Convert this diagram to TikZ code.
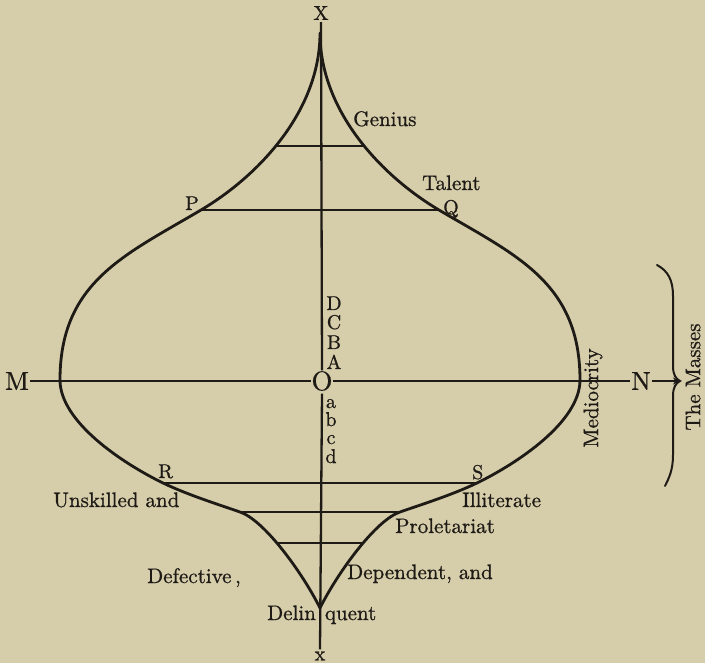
\documentclass[tikz,border=0pt]{standalone}
\usepackage{fontspec}
\setmainfont{lmroman10-regular.otf}[FakeBold=0.8]
\usetikzlibrary{arrows.meta}
\definecolor{paper}{RGB}{214,205,170}
\definecolor{ink}{RGB}{30,26,22}
\tikzset{
  lbl/.style={inner sep=0pt, text=ink, font=\fontsize{21}{25}\selectfont},
  let/.style={inner sep=0pt, text=ink, font=\fontsize{20}{23}\selectfont},
  big/.style={inner sep=1pt, text=ink, font=\fontsize{26}{29}\selectfont},
  outline/.style={draw=ink, line width=2.8pt, line cap=round, line join=round},
  bar/.style={draw=ink, line width=2.1pt},
  axis/.style={draw=ink, line width=2.3pt},
}
\begin{document}
\begin{tikzpicture}[x=1pt,y=-1pt]
\useasboundingbox (0,0) rectangle (705,663);
\fill[paper] (0,0) rectangle (705,663);

% outline of the figure
\draw[outline] (320,33)
  .. controls (320,110) and (380,175) .. (439,210)
  .. controls (515,255) and (580,282) .. (580,380)
  .. controls (580,422) and (517,463.5) .. (477,483)
  .. controls (452,495) and (420,505) .. (400,512)
  .. controls (376,520) and (338,572) .. (320,608)
  .. controls (302,572) and (264,520) .. (240,512)
  .. controls (220,505) and (188,495) .. (163,483)
  .. controls (123,463.5) and (60,422) .. (60,380)
  .. controls (60,282) and (125,255) .. (201,210)
  .. controls (260,175) and (320,110) .. (320,33);

% cross bars
\draw[bar] (276,146) -- (364,146);
\draw[bar] (201,210) -- (439,210);
\draw[bar] (163,483) -- (477,483);
\draw[bar] (240,512) -- (400,512);
\draw[bar] (276.5,543) -- (363.5,543);

% axes
\node[let, inner sep=2pt] (X) at (321,13) {X};
\node[let, inner sep=2pt] (xb) at (320,656) {x};
\node[big] (M) at (17,381) {M};
\node[big] (N) at (641,381) {N};
\node[inner sep=0.5pt, text=ink, font=\fontsize{27}{30}\selectfont] (O) at (322,381) {O};
\draw[axis] (X.south) -- (O.north);
\draw[axis] (O.south) ++(0,2) -- (xb.north);
\draw[axis] (M.east) -- (O.west);
\draw[axis] (O.east) -- (N.west);

% brace
\coordinate (tip) at (680,381);
\draw[draw=ink, line width=2pt, line cap=round]
  (657,265) .. controls (668,271) and (673,280) .. (673,296) -- (673,366)
  .. controls (673,375) and (676,379) .. (tip)
  .. controls (676,383) and (673,387) .. (673,396) -- (673,455)
  .. controls (673,470) and (669,478) .. (665,486);
\draw[draw=ink, line width=1.6pt, -{Stealth[length=7pt,width=7pt]}] (N.east) -- (tip);

% labels on the axis
\node[let, anchor=base] (D) at (334,310) {D};
\node[let, anchor=base] (C) at (334,329) {C};
\node[let, anchor=base] (B) at (334,349) {B};
\node[let, anchor=base] (A) at (334,369) {A};
\node[let, anchor=base] (la) at (331,408) {a};
\node[let, anchor=base] (lb) at (331,426) {b};
\node[let, anchor=base] (lc) at (331,444) {c};
\node[let, anchor=base] (ld) at (331,463) {d};

% point letters
\node[let, anchor=base west] (P) at (185,210) {P};
\node[let, anchor=base west] (Q) at (443,214) {Q};
\node[let, anchor=base west] (R) at (158,478) {R};
\node[let, anchor=base west] (S) at (472,479) {S};

% words
\node[lbl, anchor=base west] (genius) at (353,126) {Genius};
\node[lbl, anchor=base west] (talent) at (422,190) {Talent};
\node[lbl, anchor=base west] (unsk) at (53,507) {Unskilled and};
\node[lbl, anchor=base west] (illit) at (462,507) {Illiterate};
\node[lbl, anchor=base west] (prol) at (395,533) {Proletariat};
\node[lbl, anchor=base west] (defe) at (147,583) {Defective\,,};
\node[lbl, anchor=base west] (depe) at (347,579) {Dependent, and};
\node[lbl, anchor=base west] (deli) at (267,620) {Delin\hspace{9pt}quent};
\node[lbl, rotate=90] (medi) at (593,398) {Mediocrity};
\node[lbl, rotate=90] (mass) at (693,377) {The Masses};
\end{tikzpicture}
\end{document}
